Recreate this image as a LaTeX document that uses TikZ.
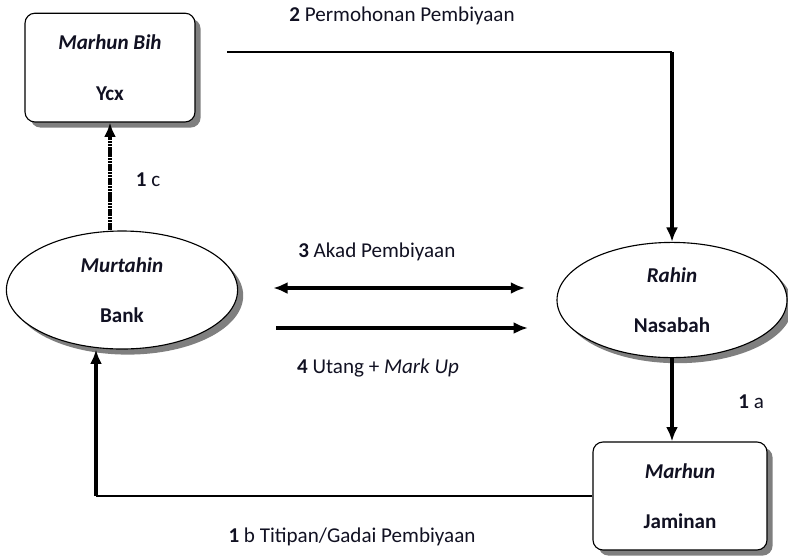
\documentclass[tikz,border=0pt]{standalone}
\usepackage{fontspec}
\setmainfont{Carlito}
\usepackage{tikz}
\usetikzlibrary{arrows.meta,shapes.geometric,shadows}
\definecolor{shadecol}{HTML}{7F7F7F}
\definecolor{inkcol}{HTML}{111122}

\begin{document}
\begin{tikzpicture}[>={Latex[length=3.6mm,width=3mm]},
  every node/.style={text=inkcol,font=\fontsize{15}{36}\selectfont},
  actorbox/.style={draw,line width=0.8pt,fill=white,rounded corners=0.25cm,align=center,
    inner sep=0pt,minimum width=4.25cm,minimum height=2.72cm,
    drop shadow={shadow xshift=0.14cm,shadow yshift=-0.14cm,fill=shadecol,opacity=1}},
  actorell/.style={ellipse,draw,line width=0.8pt,fill=white,align=center,inner sep=0pt,
    minimum width=5.78cm,minimum height=2.95cm,
    drop shadow={shadow xshift=0.14cm,shadow yshift=-0.14cm,fill=shadecol,opacity=1}},
  lbl/.style={font=\fontsize{15}{18}\selectfont},
  thinln/.style={line width=1.1pt},
  thickln/.style={line width=2.3pt},
  dotln/.style={line width=2.3pt,dash pattern=on 1.6pt off 0.4pt}]
  \useasboundingbox (0,0) rectangle (19.7,-13.875);
  % ---------- parties -------------------------------------------
  \node[actorbox] (bih) at (2.75,-1.69)
      {\textbf{\textit{Marhun Bih}}\\\textbf{Ycx}};
  \node[actorell] (murtahin) at (3.05,-7.25)
      {\textbf{\textit{Murtahin}}\\\textbf{Bank}};
  \node[actorell,minimum width=5.75cm,minimum height=2.88cm] (rahin) at (16.8,-7.5)
      {\textbf{\textit{Rahin}}\\\textbf{Nasabah}};
  \node[actorbox,minimum width=4.35cm,minimum height=2.7cm] (marhun) at (17,-12.4)
      {\textbf{\textit{Marhun}}\\\textbf{Jaminan}};
  % ---------- free ends and bends --------------------------------
  \coordinate (reqstart) at (5.68,-1.3);
  \coordinate (reqbend) at (reqstart -| rahin.north);
  \coordinate (akadL) at (6.83,-7.2);
  \coordinate (akadR) at (13.13,-7.2);
  \coordinate (utangL) at (6.9,-8.2);
  \coordinate (utangR) at (13.2,-8.2);
  \coordinate (gadaibend) at (2.4,-12.4);
  % ---------- flows ----------------------------------------------
  \draw[dotln,->] (bih.south |- murtahin.north) -- (bih.south);
  \draw[thinln] (reqstart) -- (reqbend);
  \draw[thickln,->] (reqbend) -- (rahin.north);
  \draw[thickln,<->] (akadL) -- (akadR);
  \draw[thickln,->] (utangL) -- (utangR);
  \draw[thickln,->] (rahin.south) -- (rahin.south |- marhun.north);
  \draw[thinln] (marhun.west) -- (gadaibend);
  \draw[thickln,->] (gadaibend) -- (gadaibend |- murtahin.south);
  % ---------- labels ---------------------------------------------
  \node[lbl] (reqlbl) at (10.05,-0.4) {\textbf{2} Permohonan Pembiyaan};
  \node[lbl] (lbl1c) at (3.7,-4.5) {\textbf{1} c};
  \node[lbl] (akadlbl) at (9.42,-6.3) {\textbf{3} Akad Pembiyaan};
  \node[lbl] (utanglbl) at (9.45,-9.2) {\textbf{4} Utang + \textit{Mark Up}};
  \node[lbl] (lbl1a) at (18.78,-10.05) {\textbf{1} a};
  \node[lbl] (gadailbl) at (8.8,-13.43) {\textbf{1} b Titipan/Gadai Pembiyaan};
\end{tikzpicture}
\end{document}
